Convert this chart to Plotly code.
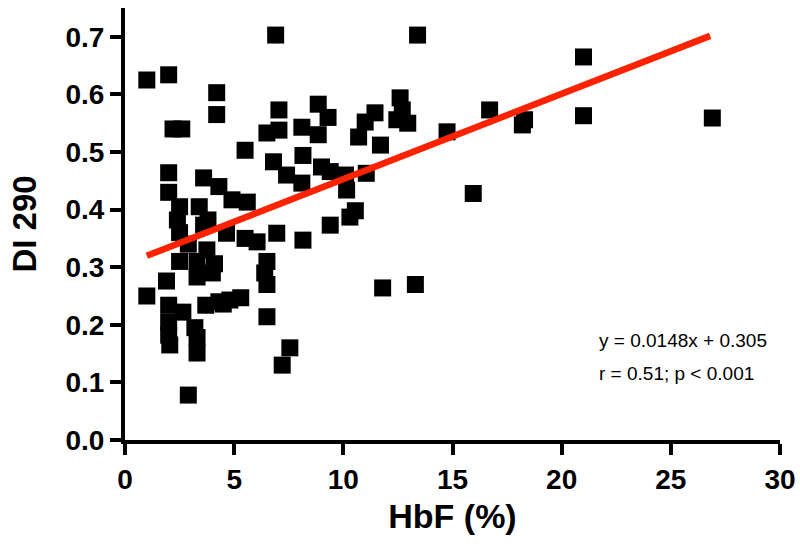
import plotly.graph_objects as go

hbf = [1.0, 2.0, 6.9, 13.4, 4.2, 4.2, 2.2, 2.6, 5.5, 2.0, 3.6, 4.3, 4.9, 5.6, 2.0,
       7.05, 6.5, 7.05, 8.85, 9.3, 8.1, 8.85, 6.8, 7.4, 8.15, 9.0, 9.4, 8.1, 10.1, 10.15,
       10.55, 10.3, 9.4, 6.95, 8.15, 5.5, 6.05, 4.65, 6.5, 6.4, 6.5, 6.5, 7.55, 7.2, 5.3,
       4.8, 4.5,
       11.45, 11.0, 10.7, 11.7, 12.6, 12.7, 12.45, 12.95, 11.05, 11.8, 13.3,
       14.75, 16.7, 15.95, 18.3, 18.2, 21.0, 21.0, 26.9,
       2.5, 3.4, 2.4, 3.8, 2.5, 3.6, 2.9, 3.75, 2.5, 3.3, 4.1, 4.0, 3.3, 1.9, 2.0, 2.65,
       2.0, 3.2, 2.0, 2.05, 3.3, 3.3, 2.9, 1.0, 3.7, 4.3]
di290 = [0.625, 0.634, 0.703, 0.703, 0.603, 0.565, 0.54, 0.54, 0.503, 0.464, 0.455, 0.44, 0.417, 0.413, 0.43,
         0.573, 0.533, 0.538, 0.583, 0.56, 0.543, 0.53, 0.483, 0.46, 0.494, 0.474, 0.466, 0.446, 0.46, 0.434,
         0.398, 0.387, 0.373, 0.359, 0.347, 0.35, 0.344, 0.359, 0.31, 0.29, 0.27, 0.214, 0.16, 0.13, 0.247,
         0.243, 0.236,
         0.568, 0.552, 0.526, 0.512, 0.594, 0.573, 0.556, 0.55, 0.463, 0.264, 0.27,
         0.535, 0.573, 0.428, 0.556, 0.547, 0.665, 0.563, 0.559,
         0.405, 0.405, 0.382, 0.382, 0.36, 0.373, 0.34, 0.33, 0.31, 0.31, 0.306, 0.29, 0.283, 0.276, 0.234, 0.222,
         0.205, 0.195, 0.182, 0.165, 0.178, 0.151, 0.078, 0.25, 0.234, 0.24]

slope = 0.0148
intercept = 0.305
fit_x = [1.0, 26.8]
fit_y = [slope * v + intercept for v in fit_x]

x_ticks = [0, 5, 10, 15, 20, 25, 30]
y_ticks = [0.0, 0.1, 0.2, 0.3, 0.4, 0.5, 0.6, 0.7]

FONT = "Liberation Sans, Arial, sans-serif"
L, R, T, B = 125, 20, 8, 113

fig = go.Figure()
fig.add_trace(go.Scatter(x=hbf, y=di290, mode="markers",
                         marker=dict(symbol="square", size=17, color="black", line=dict(width=0)),
                         showlegend=False, cliponaxis=False))
fig.add_trace(go.Scatter(x=fit_x, y=fit_y, mode="lines",
                         line=dict(color="#ff2200", width=6.5), showlegend=False))

axis_font = dict(family=FONT, size=28, color="black", weight="bold")
fig.update_layout(
    width=800, height=553,
    margin=dict(l=L, r=R, t=T, b=B),
    plot_bgcolor="white", paper_bgcolor="white",
    xaxis=dict(range=[0, 30], tickvals=x_ticks, showline=True, linecolor="black", linewidth=4,
               ticks="outside", ticklen=11, tickwidth=4, tickcolor="black", showgrid=False, zeroline=False,
               tickfont=axis_font, automargin=False,
               title=dict(text="HbF (%)", font=dict(family=FONT, size=34, color="black", weight="bold"),
                          standoff=12)),
    yaxis=dict(range=[0, 0.75], tickvals=y_ticks, tickformat=".1f", showline=True, linecolor="black",
               linewidth=4, ticks="outside", ticklen=11, tickwidth=4, tickcolor="black", showgrid=False,
               zeroline=False, tickfont=axis_font, automargin=False,
               title=dict(text="DI 290", font=dict(family=FONT, size=33, color="black", weight="bold"),
                          standoff=20)),
    annotations=[
        dict(x=(597 - L) / (800 - L - R), y=0.172, xref="paper", yref="y", text="y = 0.0148x + 0.305",
             showarrow=False, xanchor="left", yanchor="middle", font=dict(family=FONT, size=19, color="black")),
        dict(x=(597 - L) / (800 - L - R), y=0.116, xref="paper", yref="y", text="r = 0.51; p < 0.001",
             showarrow=False, xanchor="left", yanchor="middle", font=dict(family=FONT, size=19, color="black")),
    ],
)

fig.write_html("out.html", config={"displayModeBar": False},
               post_script="document.body.style.margin='0';document.body.style.padding='0';")
